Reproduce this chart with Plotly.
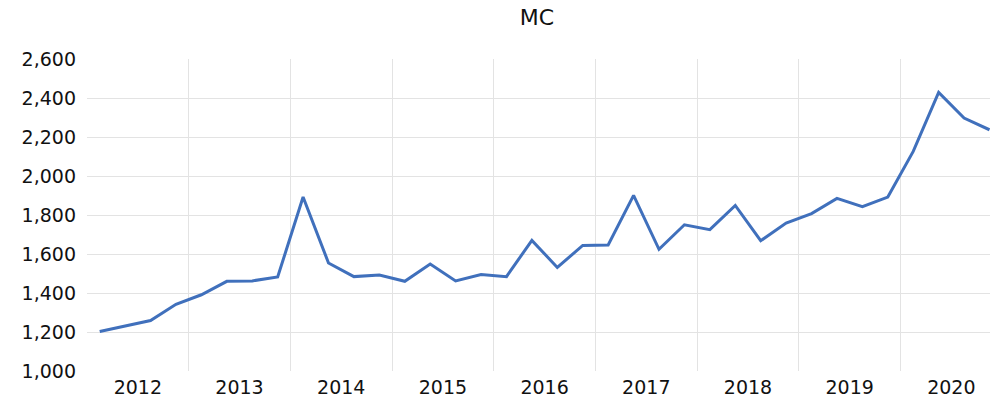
import plotly.graph_objects as go

years = ["2012", "2013", "2014", "2015", "2016", "2017", "2018", "2019", "2020"]
quarters = ["Q1", "Q2", "Q3", "Q4"]
mc_values = [
    1203, 1230, 1259, 1342,
    1391, 1460, 1462, 1482,
    1892, 1554, 1484, 1492,
    1460, 1549, 1462, 1495,
    1484, 1670, 1531, 1644,
    1646, 1901, 1624, 1750,
    1725, 1849, 1668, 1759,
    1807, 1885, 1843, 1892,
    2126, 2429, 2297, 2237,
]
y_ticks = [1000, 1200, 1400, 1600, 1800, 2000, 2200, 2400, 2600]
y_tick_text = ["1,000", "1,200", "1,400", "1,600", "1,800", "2,000", "2,200", "2,400", "2,600"]

x_idx = list(range(len(mc_values)))
year_centers = [i * 4 + 1.5 for i in range(len(years))]
year_bounds = [i * 4 + 3.5 for i in range(len(years) - 1)]

fig = go.Figure()
fig.add_trace(go.Scatter(
    x=x_idx, y=mc_values, mode="lines",
    line=dict(color="#4070BC", width=3),
    hoverinfo="y",
))

font_family = "DejaVu Sans"
fig.update_layout(
    width=990, height=400,
    margin=dict(l=87, r=0, t=59, b=29, autoexpand=False),
    paper_bgcolor="white", plot_bgcolor="white",
    showlegend=False,
    title=dict(text="MC", x=537 / 990, xanchor="center", y=1 - 17 / 400, yanchor="middle",
               font=dict(family=font_family, size=22, color="#111111")),
    font=dict(family=font_family, color="#111111"),
)
fig.update_xaxes(
    range=[-0.5, 35.02], automargin=False,
    tickmode="array", tickvals=year_centers, ticktext=years,
    showgrid=False, zeroline=False, showline=False, ticks="",
    ticklabelstandoff=3,
    tickfont=dict(family=font_family, size=19, color="#111111"),
    minor=dict(tickvals=year_bounds, showgrid=True, gridcolor="#e3e3e3", gridwidth=1.3, ticks=""),
)
fig.update_yaxes(
    range=[1000, 2600], automargin=False,
    tickmode="array", tickvals=y_ticks, ticktext=y_tick_text,
    showgrid=False, zeroline=False, showline=False, ticks="",
    ticklabelstandoff=10,
    tickfont=dict(family=font_family, size=19, color="#111111"),
    minor=dict(tickvals=y_ticks[1:-1], showgrid=True, gridcolor="#e3e3e3", gridwidth=1.3, ticks=""),
)

fig.write_html("out.html", config={"displayModeBar": False},
               post_script="document.body.style.margin='0';document.body.style.overflow='hidden';")
